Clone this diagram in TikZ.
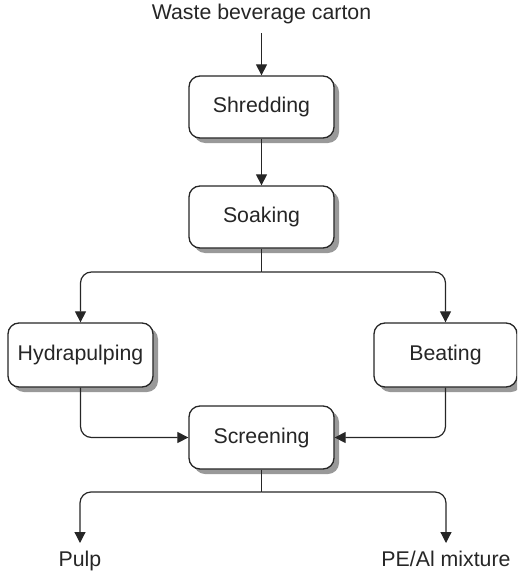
\documentclass[tikz,border=0pt]{standalone}
\usepackage{fontspec}
\setmainfont{Liberation Sans}
\usetikzlibrary{shadows,arrows.meta}
\begin{document}
\begin{tikzpicture}[x=1pt,y=-1pt,
  every node/.style={font=\fontsize{21.3}{25}\selectfont, text=black!85},
  procbox/.style={draw=black!85, line width=1.3pt, rounded corners=11pt, fill=white,
    minimum width=145pt, minimum height=62pt, inner sep=0pt,
    drop shadow={shadow xshift=5pt, shadow yshift=-5pt, fill=black!40, opacity=1}},
  flow/.style={draw=black!85, line width=1.2pt, rounded corners=11pt,
    -{Triangle[length=11pt,width=11pt]}},
  link/.style={draw=black!85, line width=1.2pt},
  product/.style={anchor=north, inner sep=0pt, outer sep=0pt}]
\useasboundingbox (0,0) rectangle (517,575);
\clip (0,0) rectangle (517,575);

% process steps
\node[procbox] (shred) at (261.5,107) {Shredding};
\node[procbox] (soak)  at (261.5,217) {Soaking};
\node[procbox, minimum width=145pt, minimum height=64pt] (hydra) at (80.5,355) {Hydrapulping};
\node[procbox, minimum width=143pt, minimum height=64pt] (beat)  at (445.5,355) {Beating};
\node[procbox, minimum height=63pt] (screen) at (261.5,437.5) {Screening};

% input and products
\node (waste) at (261.5,14) {Waste beverage carton};
\node[product] (pulp) at (80,551) {Pulp};
\node[product] (peal) at (446,551) {PE/Al mixture};

% branch points and arrow ends
\coordinate (split) at (261.5,272);
\coordinate (merge) at (261.5,492);
\coordinate (pulpin) at (80,543);
\coordinate (pealin) at (446,543);

% connectors
\draw[flow] (waste.south) ++(0,6) -- (shred.north);
\draw[flow] (shred) -- (soak);
\draw[link] (soak.south) -- (split);
\draw[flow] (split) -| (hydra.north);
\draw[flow] (split) -| (beat.north);
\draw[flow] (hydra.south) |- (screen.west);
\draw[flow] (beat.south) |- (screen.east);
\draw[link] (screen.south) -- (merge);
\draw[flow] (merge) -| (pulpin);
\draw[flow] (merge) -| (pealin);
\end{tikzpicture}
\end{document}
